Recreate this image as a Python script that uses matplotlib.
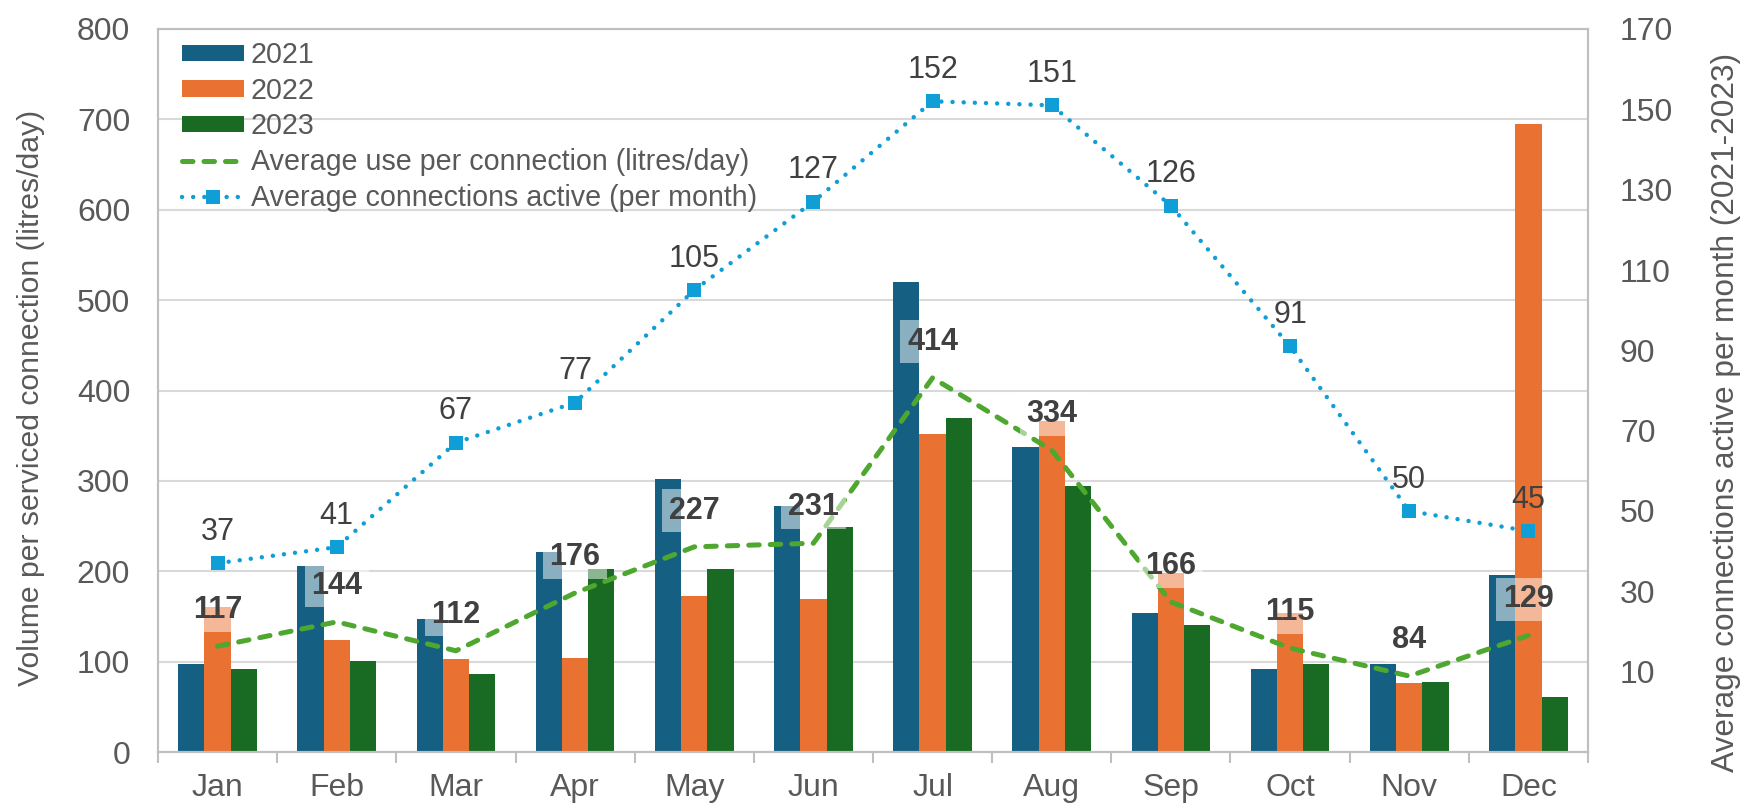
import numpy as np
import matplotlib
matplotlib.use("Agg")
import matplotlib.pyplot as plt
from matplotlib.patches import Patch
from matplotlib.lines import Line2D

plt.rcParams['font.family'] = ['Liberation Sans', 'DejaVu Sans']

months = ["Jan", "Feb", "Mar", "Apr", "May", "Jun", "Jul", "Aug", "Sep", "Oct", "Nov", "Dec"]
vol_2021 = [97, 206, 147, 221, 302, 272, 520, 337, 154, 92, 97, 196]
vol_2022 = [160, 124, 103, 104, 173, 169, 352, 366, 198, 154, 76, 695]
vol_2023 = [92, 101, 86, 203, 203, 249, 370, 294, 140, 97, 78, 61]
avg_use = [117, 144, 112, 176, 227, 231, 414, 334, 166, 115, 84, 129]
avg_conn = [37, 41, 67, 77, 105, 127, 152, 151, 126, 91, 50, 45]
left_ticks = [0, 100, 200, 300, 400, 500, 600, 700, 800]
right_ticks = [10, 30, 50, 70, 90, 110, 130, 150, 170]

C21, C22, C23 = "#156082", "#E97132", "#196B24"
CGREEN, CBLUE = "#4EA72E", "#0F9ED5"
TXT = "#595959"
LBL = "#404040"
GRID = "#D9D9D9"
BORDER = "#BFBFBF"

fig = plt.figure(figsize=(17.52, 8.1), dpi=100)
ax = fig.add_axes([158/1752, 1 - 752/810, 1430/1752, 723/810])
ax2 = ax.twinx()

x = np.arange(len(months))
w = 0.22
ax.bar(x - w, vol_2021, w, color=C21, zorder=2)
ax.bar(x, vol_2022, w, color=C22, zorder=2)
ax.bar(x + w, vol_2023, w, color=C23, zorder=2)
ax.plot(x, avg_use, color=CGREEN, lw=3.6, linestyle=(0, (2.1, 2.2)),
        dash_capstyle='round', zorder=3)

for xi, v in zip(x, avg_use):
    ax.annotate(str(v), (xi, v), xytext=(0, 26), textcoords='offset points',
                ha='center', va='center', fontsize=22, fontweight='bold', color=LBL,
                zorder=5,
                bbox=dict(boxstyle='square,pad=0.22', fc='white', ec='none', alpha=0.5))

ax2.plot(x, avg_conn, color=CBLUE, lw=3.2, linestyle=(0, (0.01, 2.5)),
         dash_capstyle='round', marker='s', markersize=9.5, markeredgewidth=0,
         markerfacecolor=CBLUE, zorder=4)
for xi, v in zip(x, avg_conn):
    ax2.annotate(str(v), (xi, v), xytext=(0, 22.5), textcoords='offset points',
                 ha='center', va='center', fontsize=22, color=LBL)

ax.set_xlim(-0.5, 11.5)
ax.set_ylim(0, 800)
ax.set_yticks(left_ticks)
ax.grid(axis='y', color=GRID, lw=1.5, zorder=0)
ax.set_axisbelow(True)
ax.set_xticks(x)
ax.set_xticklabels(months)
ax.set_xticks(np.arange(-0.5, 12, 1), minor=True)
ax.tick_params(axis='x', which='major', length=0, pad=15, labelsize=23, labelcolor=TXT)
ax.tick_params(axis='x', which='minor', length=8, width=1.5, color=BORDER)
ax.tick_params(axis='y', length=0, pad=20, labelsize=23, labelcolor=TXT)

ax2.set_ylim(-10, 170)
ax2.set_yticks(right_ticks)
ax2.tick_params(axis='y', length=0, pad=23, labelsize=23, labelcolor=TXT)

for a in (ax, ax2):
    for s in a.spines.values():
        s.set_color(BORDER)
        s.set_linewidth(1.5)

fig.text(31/1752, 1 - 398/810, "Volume per serviced connection (litres/day)",
         rotation=90, ha='center', va='center', fontsize=21.7, color=TXT)
fig.text(1726/1752, 1 - 412/810, "Average connections active per month (2021-2023)",
         rotation=90, ha='center', va='center', fontsize=22.8, color=TXT)

handles = [
    Patch(facecolor=C21, edgecolor='none'),
    Patch(facecolor=C22, edgecolor='none'),
    Patch(facecolor=C23, edgecolor='none'),
    Line2D([], [], color=CGREEN, lw=3.6, linestyle=(0, (2.1, 2.2)), dash_capstyle='round'),
    Line2D([], [], color=CBLUE, lw=3.2, linestyle=(0, (0.01, 2.5)), dash_capstyle='round',
           marker='s', markersize=9.5, markeredgewidth=0),
]
labels = ["2021", "2022", "2023", "Average use per connection (litres/day)",
          "Average connections active (per month)"]
leg = ax2.legend(handles, labels, loc='upper left', bbox_to_anchor=(24/1430, (752-41)/723),
                 frameon=False, fontsize=20.6, labelcolor=TXT, borderpad=0, borderaxespad=0,
                 handlelength=2.15, handleheight=0.5, handletextpad=0.25, labelspacing=0.27)

fig.savefig("out.png", dpi=100, facecolor='white')
